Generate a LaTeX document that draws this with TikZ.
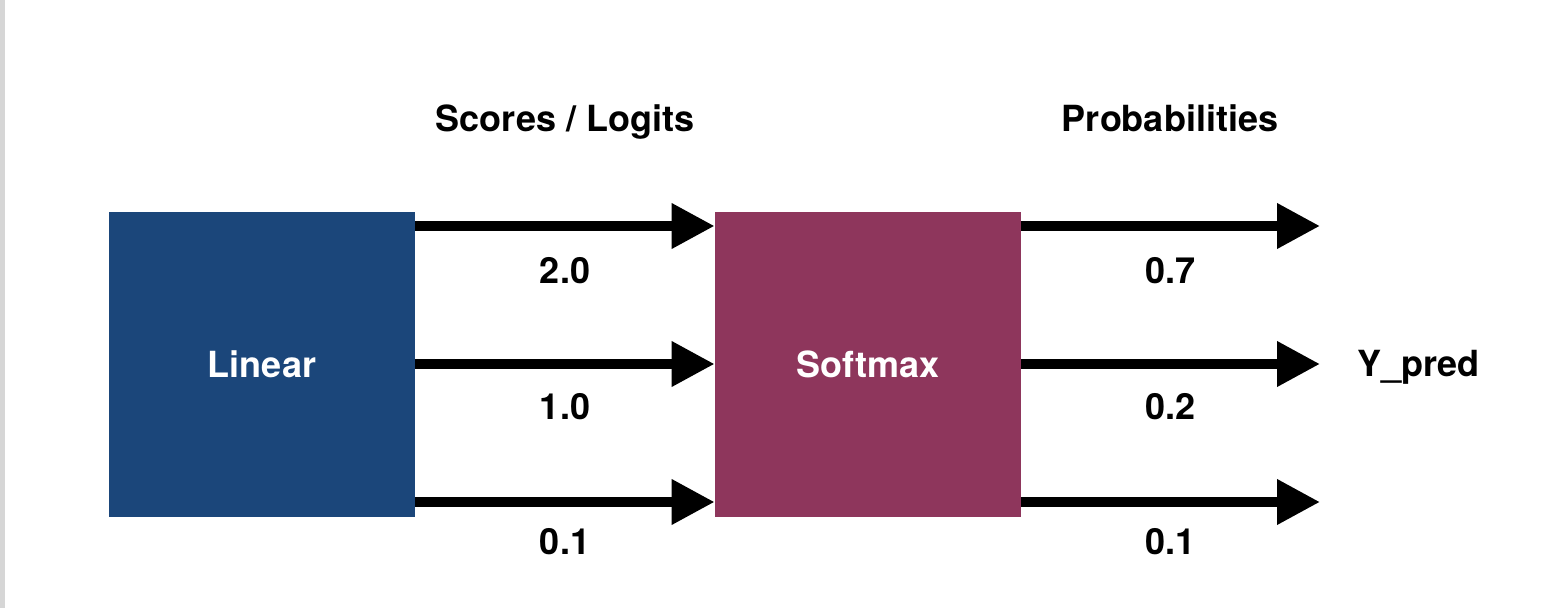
\documentclass[tikz,border=0pt]{standalone}
\usepackage{fontspec}
\setmainfont{TeX Gyre Heros}
\usetikzlibrary{arrows.meta}
\definecolor{linblue}{RGB}{27,70,122}
\definecolor{softred}{RGB}{142,54,92}
\definecolor{edgegray}{RGB}{214,214,214}

\begin{document}
\begin{tikzpicture}[x=0.5pt,y=-0.5pt]
\tikzstyle{every node}+=[font=\fontsize{18}{21}\selectfont\bfseries]
\tikzstyle{block}=[minimum width=153pt,minimum height=152.5pt,inner sep=0pt,text=white]
\tikzstyle{flow}=[line width=5pt,-{Triangle[length=21.5pt,width=21.5pt]}]
\useasboundingbox (0,0) rectangle (1566,608);
\fill [edgegray] (0,0) rectangle (5,608);
% blocks
\node [block,fill=linblue] (lin) at (262,364.5) {Linear};
\node [block,fill=softred] (soft) at (868,364.5) {Softmax};
% headings
\node [anchor=base] (scores) at (565,132) {Scores / Logits};
\node [anchor=base] (probs) at (1170,132) {Probabilities};
% arrow ends on the right
\coordinate (p1) at (1320,226);
\coordinate (p2) at (1320,364);
\coordinate (p3) at (1320,502);
\node [anchor=base west] (ypred) at (1350,377) {Y\_pred};
% scores
\draw [flow] (lin.east |- 0,226) -- (soft.west |- 0,226);
\draw [flow] (lin.east |- 0,364) -- (soft.west |- 0,364);
\draw [flow] (lin.east |- 0,502) -- (soft.west |- 0,502);
\node (s1) at (565,271) {2.0};
\node (s2) at (565,407) {1.0};
\node (s3) at (565,542) {0.1};
% probabilities
\draw [flow] (soft.east |- p1) -- (p1);
\draw [flow] (soft.east |- p2) -- (p2);
\draw [flow] (soft.east |- p3) -- (p3);
\node (q1) at (1170,271) {0.7};
\node (q2) at (1170,407) {0.2};
\node (q3) at (1170,542) {0.1};
\end{tikzpicture}
\end{document}
